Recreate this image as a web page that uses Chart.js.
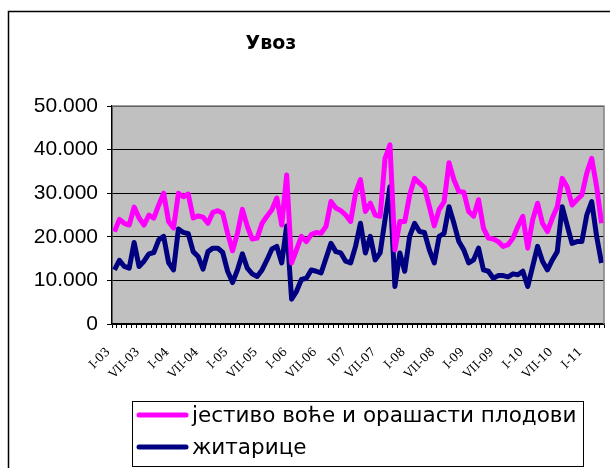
<!DOCTYPE html>
<html>
<head>
<meta charset="utf-8">
<script src="https://cdn.jsdelivr.net/npm/chart.js@4.4.0/dist/chart.umd.min.js"></script>
<style>
    body { margin: 0; background: #fff; }
    #wrap { width: 610px; height: 468px; }
</style>
</head>
<body>
<div id="wrap"><canvas id="chartUvoz" width="610" height="468"></canvas></div>
<script>
// monthly imports, Jan 2003 - Apr 2011 (thousands)
var romanMonths = ['I', 'II', 'III', 'IV', 'V', 'VI', 'VII', 'VIII', 'IX', 'X', 'XI', 'XII'];
var years = ['03', '04', '05', '06', '07', '08', '09', '10', '11'];
var tickLabels = ['I-03', 'VII-03', 'I-04', 'VII-04', 'I-05', 'VII-05', 'I-06', 'VII-06', 'I07',
    'VII-07', 'I-08', 'VII-08', 'I-09', 'VII-09', 'I-10', 'VII-10', 'I-11'];

var fruitNuts = [
    21.2, 24.0, 23.1, 22.7, 26.8, 24.3, 22.7, 25.0, 24.3, 27.3, 30.0, 23.5,
    22.0, 30.0, 29.2, 29.8, 24.3, 24.8, 24.5, 23.1, 25.6, 26.0, 25.4, 20.8,
    16.8, 20.8, 26.3, 22.4, 19.5, 19.7, 23.1, 24.7, 26.2, 28.9, 22.7, 34.2,
    14.0, 17.0, 20.1, 18.9, 20.5, 21.0, 20.8, 22.4, 28.1, 26.6, 26.0, 25.0,
    23.5, 30.0, 33.1, 25.8, 27.7, 25.0, 24.7, 38.0, 41.1, 17.0, 23.5, 23.5,
    29.6, 33.4, 32.3, 31.3, 27.0, 22.5, 26.3, 28.0, 37.0, 33.1, 30.4, 30.2,
    25.8, 24.7, 28.5, 22.0, 19.7, 19.5, 18.9, 17.8, 18.2, 19.7, 22.4, 24.7,
    17.4, 23.9, 27.7, 23.1, 21.2, 24.3, 26.9, 33.4, 31.5, 27.3, 28.5, 29.6,
    34.6, 38.0, 31.5, 23.1
];
var cereals = [
    12.4, 14.6, 13.2, 12.8, 18.7, 13.2, 14.4, 16.1, 16.4, 19.3, 20.1, 14.1,
    12.4, 21.8, 21.0, 20.7, 16.6, 15.5, 12.6, 16.6, 17.4, 17.4, 16.4, 12.1,
    9.5, 12.4, 16.1, 12.8, 11.5, 10.9, 12.4, 14.7, 17.2, 17.8, 14.0, 22.5,
    5.7, 7.5, 10.2, 10.5, 12.4, 12.1, 11.7, 15.1, 18.5, 16.6, 16.3, 14.4,
    14.0, 17.8, 23.1, 16.3, 20.1, 14.7, 16.3, 24.0, 31.5, 8.6, 16.3, 12.1,
    20.1, 23.1, 21.2, 21.0, 17.0, 14.0, 20.1, 20.8, 26.9, 23.1, 18.9, 17.0,
    14.0, 14.7, 17.4, 12.4, 12.1, 10.5, 11.1, 11.1, 10.8, 11.5, 11.3, 12.1,
    8.6, 13.2, 17.8, 14.4, 12.4, 14.7, 16.6, 26.9, 22.7, 18.5, 18.9, 18.9,
    25.0, 28.1, 20.1, 14.0
];
var seriesNames = ['јестиво воће и орашасти плодови', 'житарице'];
var seriesColors = ['#FF00FF', '#000080'];

var months = [];
years.forEach(function (y) {
    romanMonths.forEach(function (m) {
        if (months.length < fruitNuts.length) months.push(m + '-' + y);
    });
});

// gray plot area, frame, title and boxed legend
var excelLook = {
    id: 'excelLook',
    beforeDraw: function (chart) {
        var ctx = chart.ctx, a = chart.chartArea;
        ctx.save();
        ctx.fillStyle = '#fff';
        ctx.fillRect(0, 0, chart.width, chart.height);
        ctx.fillStyle = '#C0C0C0';
        ctx.fillRect(a.left, a.top, a.right - a.left, a.bottom - a.top);
        ctx.restore();
    },
    afterDraw: function (chart) {
        var ctx = chart.ctx, a = chart.chartArea;
        ctx.save();
        // plot frame top/right
        ctx.strokeStyle = '#808080';
        ctx.lineWidth = 1.5;
        ctx.beginPath();
        ctx.moveTo(a.left, a.top);
        ctx.lineTo(a.right, a.top);
        ctx.lineTo(a.right, a.bottom);
        ctx.stroke();
        // outer chart border
        ctx.strokeStyle = '#000';
        ctx.lineWidth = 1.5;
        ctx.strokeRect(8.5, 11.5, 700, 600);
        // title
        ctx.fillStyle = '#000';
        ctx.font = 'bold 19px "DejaVu Sans"';
        ctx.textAlign = 'center';
        ctx.textBaseline = 'alphabetic';
        ctx.fillText('Увоз', 271, 49);
        // legend
        ctx.lineWidth = 1;
        ctx.strokeRect(132.5, 401.5, 451, 65);
        ctx.font = '21.5px "DejaVu Sans"';
        ctx.textAlign = 'left';
        ctx.textBaseline = 'middle';
        seriesNames.forEach(function (name, i) {
            var y = 415 + i * 32;
            ctx.strokeStyle = seriesColors[i];
            ctx.lineWidth = 5;
            ctx.lineCap = 'round';
            ctx.beginPath();
            ctx.moveTo(139, y);
            ctx.lineTo(186, y);
            ctx.stroke();
            ctx.fillStyle = '#000';
            ctx.fillText(name, 192, y + 1);
        });
        ctx.restore();
    }
};

new Chart(document.getElementById('chartUvoz'), {
    type: 'line',
    data: {
        labels: months,
        datasets: [{
            label: seriesNames[0],
            data: fruitNuts,
            borderColor: seriesColors[0],
            backgroundColor: seriesColors[0],
            borderWidth: 5,
            pointRadius: 0,
            tension: 0,
            borderJoinStyle: 'round'
        }, {
            label: seriesNames[1],
            data: cereals,
            borderColor: seriesColors[1],
            backgroundColor: seriesColors[1],
            borderWidth: 5,
            pointRadius: 0,
            tension: 0,
            borderJoinStyle: 'round'
        }]
    },
    options: {
        responsive: false,
        animation: false,
        layout: { padding: { top: 106, right: 6, left: 0, bottom: 0 } },
        plugins: {
            legend: { display: false },
            title: { display: false },
            tooltip: { enabled: false }
        },
        scales: {
            x: {
                offset: true,
                afterFit: function (scale) {
                    scale.height = 144;
                    scale.paddingLeft = 0;
                    scale.paddingRight = 0;
                },
                grid: {
                    drawOnChartArea: false,
                    drawTicks: true,
                    tickLength: 4,
                    color: '#000',
                    offset: true
                },
                border: { color: '#000', width: 1.5 },
                ticks: {
                    autoSkip: false,
                    minRotation: 45,
                    maxRotation: 45,
                    padding: 17,
                    labelOffset: -6,
                    color: '#000',
                    font: { family: '"DejaVu Serif"', size: 12 },
                    callback: function (value, index) {
                        return index % 6 === 0 ? tickLabels[index / 6] : '';
                    }
                }
            },
            y: {
                min: 0,
                max: 50,
                afterFit: function (scale) {
                    scale.width = 112;
                    scale.paddingTop = 0;
                    scale.paddingBottom = 0;
                },
                grid: {
                    color: '#000',
                    lineWidth: 1,
                    tickLength: 5,
                    tickColor: '#000'
                },
                border: { color: '#000', width: 1.5 },
                ticks: {
                    stepSize: 10,
                    padding: 9,
                    color: '#000',
                    font: { family: '"Liberation Sans"', size: 21 },
                    callback: function (value) {
                        return value === 0 ? '0' : value + '.000';
                    }
                }
            }
        }
    },
    plugins: [excelLook]
});
</script>
</body>
</html>
